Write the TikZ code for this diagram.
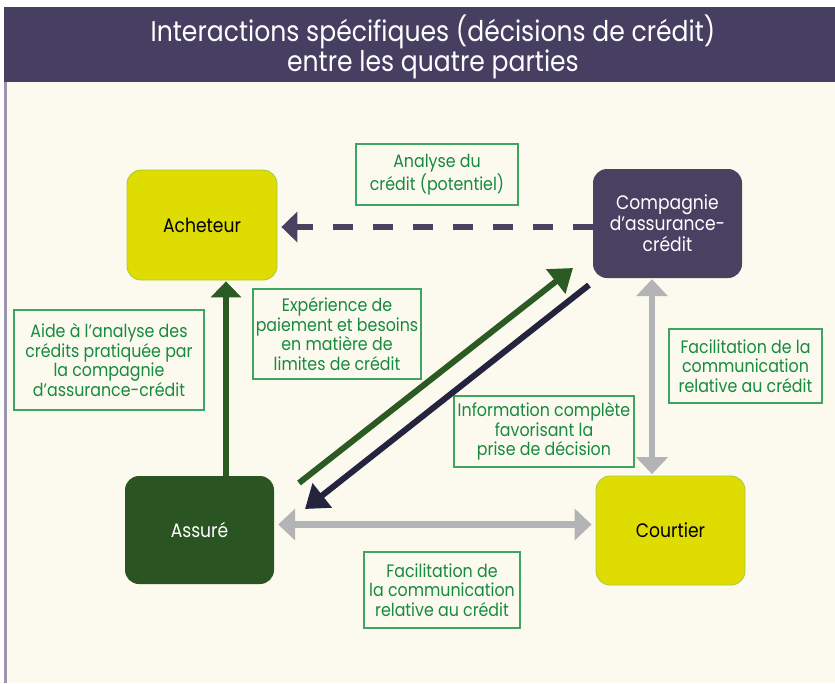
\documentclass[tikz,border=0pt]{standalone}
\usepackage{fontspec}
\setmainfont{Poppins}[FakeStretch=0.88]
\usetikzlibrary{arrows.meta}
\definecolor{cream}{HTML}{FCFAEE}
\definecolor{band}{HTML}{463F62}
\definecolor{leftline}{HTML}{9C95B0}
\definecolor{yel}{HTML}{DEDC00}
\definecolor{yelborder}{HTML}{A9C93C}
\definecolor{purp}{HTML}{4A4062}
\definecolor{dgreen}{HTML}{2A5523}
\definecolor{lbltext}{HTML}{168A3E}
\definecolor{lblborder}{HTML}{3FA362}
\definecolor{agreen}{HTML}{2B5A22}
\definecolor{navy}{HTML}{25243F}
\definecolor{agray}{HTML}{B3B4B6}
\tikzset{
  party/.style={rounded corners=14pt, minimum width=150pt, minimum height=110pt, align=center, font=\fontsize{19.5}{21}\selectfont, inner sep=0pt},
  lbl/.style={draw=lblborder, line width=1.2pt, fill=cream, text=lbltext, align=center, font=\fontsize{18}{19.5}\selectfont, inner sep=0pt},
}
\begin{document}
\begin{tikzpicture}[x=1pt,y=-1pt]
\useasboundingbox (0,0) rectangle (835,683);
\fill[white] (0,0) rectangle (835,683);
\fill[cream] (4,82) rectangle (835,683);
\fill[band] (4,7) rectangle (835,82);
\fill[leftline] (4,82) rectangle (7,683);
\node[text=white, align=center, font=\fontsize{28.5}{29}\selectfont] (title) at (433,47) {Interactions spécifiques (décisions de crédit)\\entre les quatre parties};

\node[party, fill=yel, draw=yelborder, line width=0.8pt] (ach) at (202,225) {Acheteur};
\node[party, fill=purp, text=white, minimum width=149pt, minimum height=109pt] (comp) at (667.5,223.5) {Compagnie\\d’assurance-\\crédit};
\node[party, fill=dgreen, text=white, minimum width=149pt, minimum height=108pt] (ass) at (199.5,530) {Assuré};
\node[party, fill=yel, draw=yelborder, line width=0.8pt, minimum width=149pt, minimum height=109pt] (cour) at (670.5,530.5) {Courtier};

\node[lbl, minimum width=162pt, minimum height=61pt] (la) at (437,174.5) {Analyse du\\crédit (potentiel)};
\node[lbl, minimum width=168pt, minimum height=90pt] (lb) at (337,334) {Expérience de\\paiement et besoins\\en matière de\\limites de crédit};
\node[lbl, minimum width=190pt, minimum height=100pt] (lc) at (109,360) {Aide à l’analyse des\\crédits pratiquée par\\la compagnie\\d’assurance-crédit};
\node[lbl, minimum width=180pt, minimum height=71pt] (ld) at (544,431.5) {Information complète\\favorisant la\\prise de décision};
\node[lbl, minimum width=153pt, minimum height=74pt] (le) at (745.5,366) {Facilitation de la\\communication\\relative au crédit};
\node[lbl, minimum width=156pt, minimum height=76pt] (lf) at (442,590) {Facilitation de\\la communication\\relative au crédit};

% dashed arrow
\draw[purp, line width=6pt, dash pattern=on 20pt off 20pt, -{Triangle[length=16pt,width=30pt]}, shorten >=4pt]
  ([yshift=-3.5pt]comp.west) -- ([yshift=-2pt]ach.east);
% vertical green
\draw[agreen, line width=6pt, -{Triangle[length=16pt,width=30pt]}, shorten >=1pt]
  ([xshift=26.5pt]ass.north) -- ([xshift=26.5pt]ass.north |- ach.south);
% diagonals
\coordinate (g1) at (299,483);
\coordinate (g2) at (573,268);
\coordinate (n1) at (589,285);
\coordinate (n2) at (305,509);
\draw[agreen, line width=6pt, -{Triangle[length=22pt,width=30pt]}] (g1) -- (g2);
\draw[navy, line width=6pt, -{Triangle[length=22pt,width=30pt]}] (n1) -- (n2);
% gray
\draw[agray, line width=6.5pt, {Triangle[length=17pt,width=31pt]}-{Triangle[length=17pt,width=31pt]}, shorten <=4pt, shorten >=4pt]
  ([yshift=5.5pt]ass.east) -- ([yshift=5.5pt]ass.east -| cour.west);
\draw[agray, line width=5.5pt, {Triangle[length=17pt,width=31pt]}-{Triangle[length=17pt,width=31pt]}, shorten <=1.5pt, shorten >=1pt]
  ([xshift=-18.5pt]cour.north) -- ([xshift=-18.5pt]cour.north |- comp.south);
\end{tikzpicture}
\end{document}
